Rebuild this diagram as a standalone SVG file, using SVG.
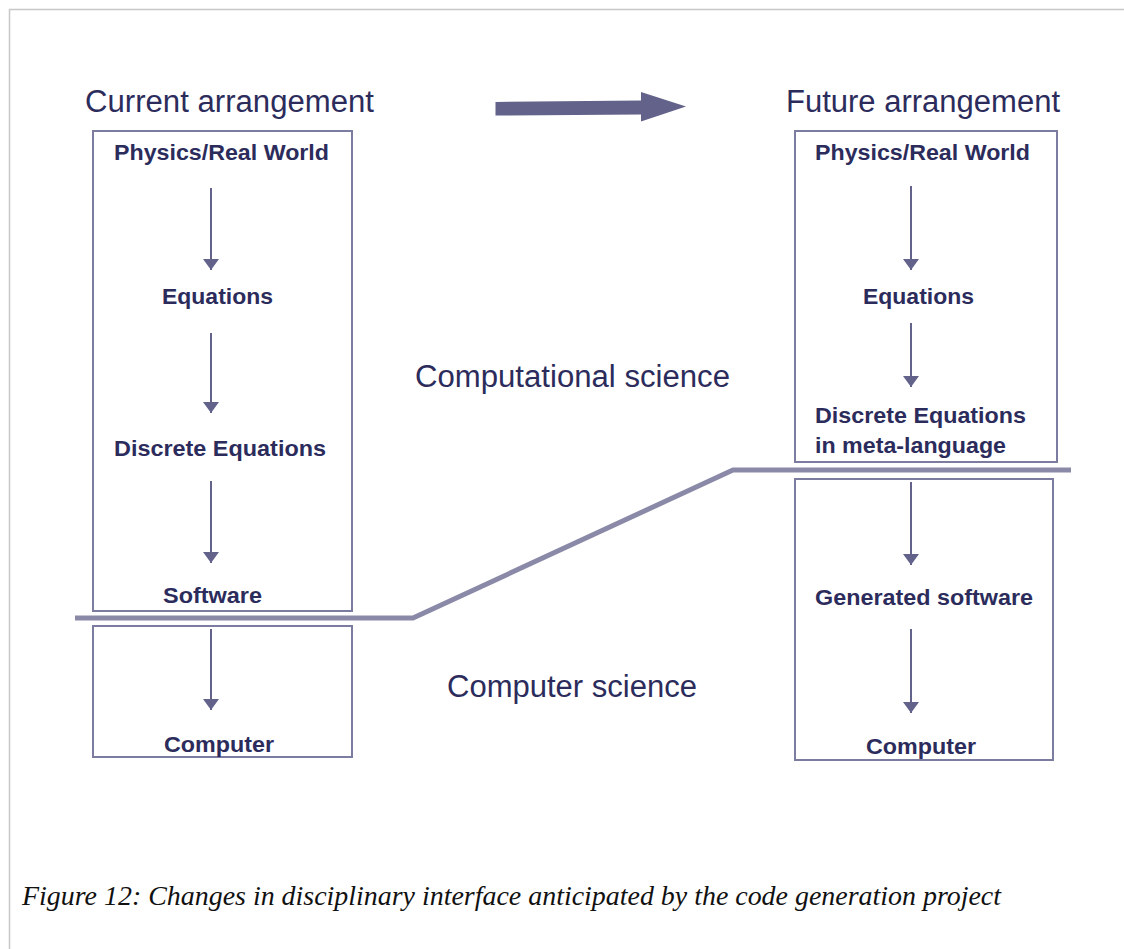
<svg xmlns="http://www.w3.org/2000/svg" width="1124" height="949" viewBox="0 0 1124 949">
  <defs>
    <marker id="head" viewBox="0 0 11 16" refX="11" refY="8" markerWidth="11" markerHeight="16" markerUnits="userSpaceOnUse" orient="auto">
      <path d="M0,0 L11,8 L0,16 Z" fill="#62628a"/>
    </marker>
    <style>
      .box { fill: none; stroke: #7c7ca0; stroke-width: 2; }
      .lbl { font-family: "Liberation Sans", Arial, sans-serif; font-weight: bold; font-size: 22.5px; fill: #2c2c5c; }
      .ttl { font-family: "Liberation Sans", Arial, sans-serif; font-size: 31px; fill: #2c2c5c; }
      .flow { stroke: #62628a; stroke-width: 2; fill: none; marker-end: url(#head); }
      .cap { font-family: "Liberation Serif", "Times New Roman", serif; font-style: italic; font-size: 28px; fill: #111; }
    </style>
  </defs>

  <rect width="1124" height="949" fill="#fff"/>
  <!-- page frame -->
  <path d="M9.5,949 V9.5 H1124" fill="none" stroke="#c8c8c8" stroke-width="1.5"/>

  <!-- headings -->
  <text class="ttl" x="85" y="112" textLength="289" lengthAdjust="spacingAndGlyphs">Current arrangement</text>
  <text class="ttl" x="786" y="112" textLength="274" lengthAdjust="spacingAndGlyphs">Future arrangement</text>
  <text class="ttl" x="415" y="387" textLength="315" lengthAdjust="spacingAndGlyphs">Computational science</text>
  <text class="ttl" x="447" y="697" textLength="250" lengthAdjust="spacingAndGlyphs">Computer science</text>

  <!-- transition arrow -->
  <path id="transition" d="M495.5,102 L641,100.5 L641,92 L686,106.5 L641,121.5 L641,114.5 L495.5,115.5 Z" fill="#62628a"/>

  <!-- current arrangement -->
  <g id="current-science">
    <rect class="box" x="93" y="131" width="259" height="480"/>
    <text class="lbl" x="114" y="160" textLength="215" lengthAdjust="spacingAndGlyphs">Physics/Real World</text>
    <text class="lbl" x="162" y="304" textLength="111" lengthAdjust="spacingAndGlyphs">Equations</text>
    <text class="lbl" x="114" y="456" textLength="212" lengthAdjust="spacingAndGlyphs">Discrete Equations</text>
    <text class="lbl" x="163" y="603" textLength="99" lengthAdjust="spacingAndGlyphs">Software</text>
  </g>
  <g id="current-computer">
    <rect class="box" x="93" y="626" width="259" height="131"/>
    <text class="lbl" x="164" y="752" textLength="110" lengthAdjust="spacingAndGlyphs">Computer</text>
  </g>

  <!-- future arrangement -->
  <g id="future-science">
    <rect class="box" x="795" y="131" width="262" height="331"/>
    <text class="lbl" x="815" y="160" textLength="215" lengthAdjust="spacingAndGlyphs">Physics/Real World</text>
    <text class="lbl" x="863" y="304" textLength="111" lengthAdjust="spacingAndGlyphs">Equations</text>
    <text class="lbl" x="815" y="423" textLength="211" lengthAdjust="spacingAndGlyphs">Discrete Equations</text>
    <text class="lbl" x="815" y="453" textLength="191" lengthAdjust="spacingAndGlyphs">in meta-language</text>
  </g>
  <g id="future-computer">
    <rect class="box" x="795" y="479" width="258" height="281"/>
    <text class="lbl" x="815" y="605" textLength="218" lengthAdjust="spacingAndGlyphs">Generated software</text>
    <text class="lbl" x="866" y="754" textLength="110" lengthAdjust="spacingAndGlyphs">Computer</text>
  </g>

  <!-- discipline boundary -->
  <polyline id="boundary" points="75,618 413,618 733,470 1071,470" fill="none" stroke="#8a8aa8" stroke-width="5"/>

  <!-- flow connectors -->
  <g id="connectors">
    <line class="flow" x1="211" y1="188" x2="211" y2="270"/>
    <line class="flow" x1="211" y1="333" x2="211" y2="413"/>
    <line class="flow" x1="211" y1="481" x2="211" y2="563"/>
    <line class="flow" x1="211" y1="629" x2="211" y2="710"/>
    <line class="flow" x1="911" y1="186" x2="911" y2="270"/>
    <line class="flow" x1="911" y1="323" x2="911" y2="387"/>
    <line class="flow" x1="911" y1="482" x2="911" y2="565"/>
    <line class="flow" x1="911" y1="629" x2="911" y2="713"/>
  </g>

  <text class="cap" x="22" y="905" textLength="979" lengthAdjust="spacingAndGlyphs">Figure 12: Changes in disciplinary interface anticipated by the code generation project</text>
</svg>
